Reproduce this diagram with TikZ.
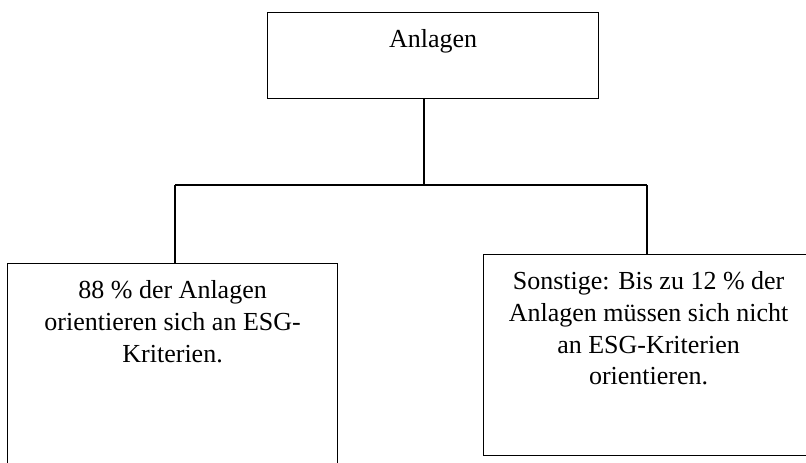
\documentclass[tikz,border=0pt]{standalone}
\usepackage{fontspec}
\setmainfont{Liberation Serif}
\newcommand{\kastentext}[3]{\begin{minipage}[t][#1][t]{#2}\centering\vspace*{17pt}#3\end{minipage}}
\tikzstyle{kasten}=[draw, line width=1.2pt, anchor=north west, inner sep=0pt, font=\fontsize{26}{31.7}\selectfont]

\begin{document}
\begin{tikzpicture}[x=1pt,y=-1pt]
    \useasboundingbox (0,0) rectangle (806,463);
    \node[kasten] (anlagen) at (267,12) {\kastentext{86pt}{331pt}{Anlagen}};
    \node[kasten] (esg) at (7,263) {\kastentext{203pt}{330pt}{88 \% der Anlagen\\orientieren sich an ESG-\\Kriterien.}};
    \node[kasten] (sonstige) at (483,254) {\kastentext{201pt}{330pt}{Sonstige: Bis zu 12 \% der\\Anlagen müssen sich nicht\\an ESG-Kriterien\\orientieren.}};
    \coordinate (mitte) at (424,185);
    \coordinate (kl) at (175,185);
    \coordinate (kr) at (647,185);
    \path[draw,line width=1.2pt]
    (anlagen.south -| mitte) -- (mitte)
    (kl) -- (kr)
    (kl) -- (esg.north -| kl)
    (kr) -- (sonstige.north -| kr)
	;
  \end{tikzpicture}
\end{document}
